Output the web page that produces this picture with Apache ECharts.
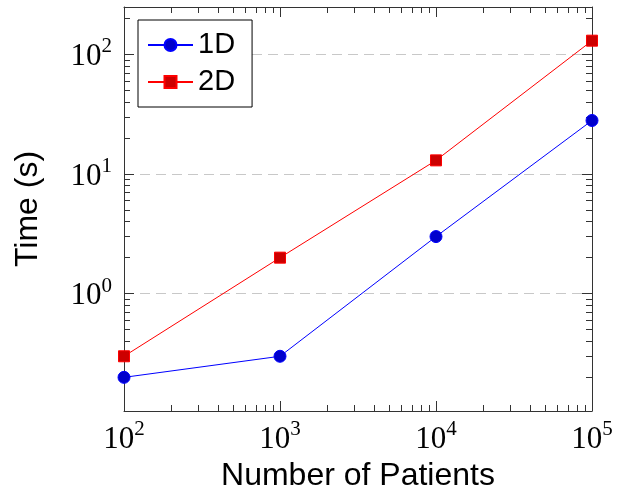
<!DOCTYPE html>
<html>
<head>
<meta charset="utf-8">
<script src="https://cdn.jsdelivr.net/npm/echarts@6/dist/echarts.min.js"></script>
<style>
  html, body { margin: 0; padding: 0; background: #fff; }
  #chart { width: 622px; height: 490px; }
</style>
</head>
<body>
<div id="chart"></div>
<script>
// ---- data ----
const patients = [100, 1000, 10000, 100000];
const time1D = [0.2, 0.3, 3, 28];
const time2D = [0.3, 2, 13, 130];
const seriesNames = ['1D', '2D'];
const xLimits = [100, 100000];
const yLimits = [0.1047, 248.5];
const xTitle = 'Number of Patients';
const yTitle = 'Time (s)';

const axisColor = '#333';
const serif = '"Liberation Serif", "DejaVu Serif", serif';
const sans = '"Liberation Sans", Arial, sans-serif';

function powLabel(v) {
  const l = Math.log10(v);
  const e = Math.round(l);
  if (Math.abs(l - e) > 1e-6) return '';
  return '{b|10}{s|' + e + '}';
}
const richPow = {
  b: { fontFamily: serif, fontSize: 31, lineHeight: 36, color: '#000', verticalAlign: 'bottom' },
  s: { fontFamily: serif, fontSize: 21, lineHeight: 21, color: '#000', verticalAlign: 'top' }
};

function baseAxis(extra) {
  return Object.assign({
    type: 'log',
    logBase: 10,
    axisLine: { show: true, onZero: false, lineStyle: { color: axisColor, width: 1 } },
    axisTick: { show: true, inside: true, length: 10, lineStyle: { color: axisColor, width: 1 } },
    minorTick: { show: true, splitNumber: 9, length: 6, lineStyle: { color: axisColor, width: 1 } },
    splitLine: { show: false },
    minorSplitLine: { show: false }
  }, extra);
}

const chart = echarts.init(document.getElementById('chart'), null, { renderer: 'canvas' });

const option = {
  animation: false,
  backgroundColor: '#fff',
  grid: { left: 124, right: 30, top: 7, bottom: 79, outerBoundsMode: 'none', containLabel: false },
  legend: {
    left: 138, top: 20, orient: 'vertical',
    backgroundColor: '#fff', borderColor: '#000', borderWidth: 1,
    padding: [10, 17, 10, 9], itemGap: 7, itemWidth: 45, itemHeight: 15,
    textStyle: { fontFamily: sans, fontSize: 29, color: '#000', lineHeight: 30 },
    data: seriesNames
  },
  xAxis: [
    baseAxis({
      position: 'bottom', min: xLimits[0], max: xLimits[1], z: 3,
      name: xTitle, nameLocation: 'middle', nameGap: 45,
      nameTextStyle: { fontFamily: sans, fontSize: 32, color: '#000' },
      axisLabel: { margin: 8, formatter: powLabel, rich: richPow, showMinLabel: true, showMaxLabel: true }
    }),
    baseAxis({
      position: 'top', min: xLimits[0], max: xLimits[1], z: 3,
      axisLabel: { show: false }
    })
  ],
  yAxis: [
    baseAxis({
      position: 'left', min: yLimits[0], max: yLimits[1], z: 1,
      name: yTitle, nameLocation: 'middle', nameGap: 80,
      nameTextStyle: { fontFamily: sans, fontSize: 32, color: '#000' },
      axisLabel: { margin: 12, formatter: powLabel, rich: richPow },
      splitLine: { show: true, lineStyle: { color: '#c8c8c8', width: 1, type: [10, 6] } }
    }),
    baseAxis({
      position: 'right', min: yLimits[0], max: yLimits[1], z: 3,
      axisLabel: { show: false }
    })
  ],
  series: [
    {
      name: seriesNames[0], type: 'line', xAxisIndex: 0, yAxisIndex: 0,
      data: patients.map((x, i) => [x, time1D[i]]),
      symbol: 'circle', symbolSize: 12, clip: false, z: 5,
      lineStyle: { color: '#0000ff', width: 1 },
      itemStyle: { color: '#0000cc', borderColor: '#0000ff', borderWidth: 1 }
    },
    {
      name: seriesNames[1], type: 'line', xAxisIndex: 0, yAxisIndex: 0,
      data: patients.map((x, i) => [x, time2D[i]]),
      symbol: 'rect', symbolSize: 11, clip: false, z: 5,
      lineStyle: { color: '#ff0000', width: 1 },
      itemStyle: { color: '#cc0000', borderColor: '#ff0000', borderWidth: 1 }
    }
  ]
};
chart.setOption(option);
</script>
</body>
</html>
